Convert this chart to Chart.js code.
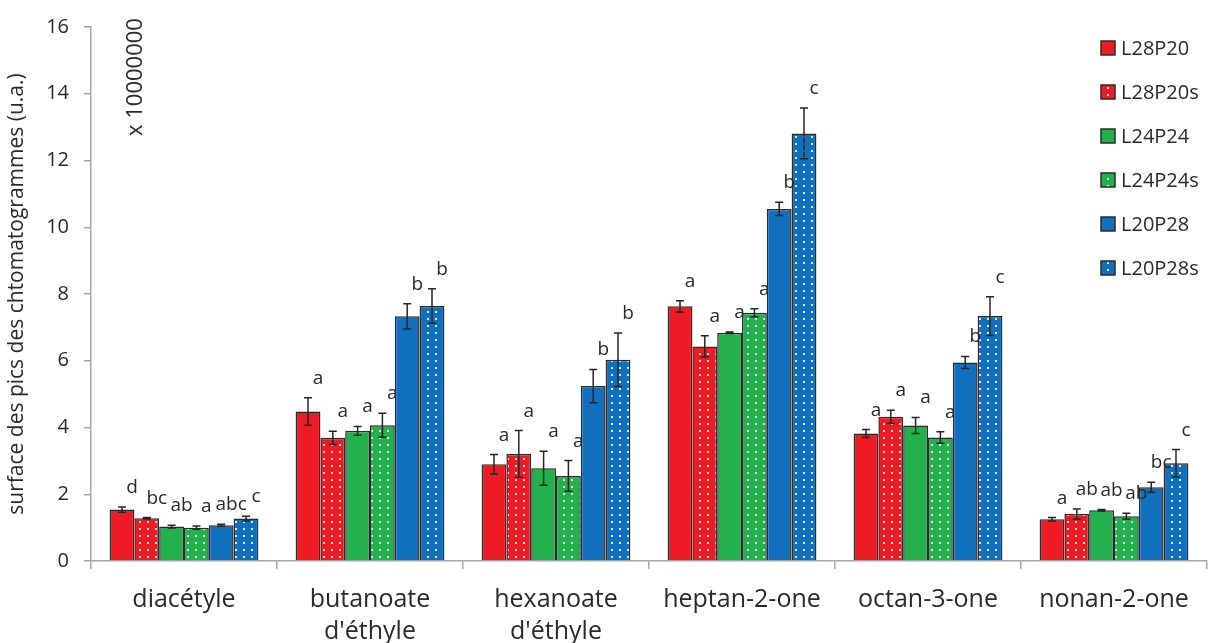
<!DOCTYPE html>
<html>
<head>
<meta charset="utf-8">
<script src="https://cdn.jsdelivr.net/npm/chart.js@4.4.1/dist/chart.umd.min.js"></script>
<style>
  html, body { margin: 0; padding: 0; background: #fff; }
  #wrap { width: 1213px; height: 643px; }
</style>
</head>
<body>
<div id="wrap"><canvas id="chart" width="1213" height="643"></canvas></div>
<script>
const categories = ['diacétyle', ['butanoate', "d'éthyle"], ['hexanoate', "d'éthyle"], 'heptan-2-one', 'octan-3-one', 'nonan-2-one'];
const seriesNames = ['L28P20', 'L28P20s', 'L24P24', 'L24P24s', 'L20P28', 'L20P28s'];

// mean values (x 10000000)
const L28P20  = [1.54, 4.48, 2.90, 7.63, 3.82, 1.25];
const L28P20s = [1.28, 3.69, 3.21, 6.43, 4.32, 1.41];
const L24P24  = [1.03, 3.90, 2.78, 6.84, 4.06, 1.52];
const L24P24s = [1.00, 4.07, 2.55, 7.44, 3.70, 1.34];
const L20P28  = [1.07, 7.33, 5.24, 10.55, 5.95, 2.21];
const L20P28s = [1.27, 7.64, 6.03, 12.81, 7.34, 2.93];

// error bars (+/-)
const errL28P20  = [0.08, 0.41, 0.29, 0.17, 0.12, 0.05];
const errL28P20s = [0.02, 0.20, 0.70, 0.32, 0.20, 0.15];
const errL24P24  = [0.04, 0.13, 0.51, 0.02, 0.24, 0.02];
const errL24P24s = [0.05, 0.36, 0.46, 0.12, 0.17, 0.09];
const errL20P28  = [0.03, 0.38, 0.50, 0.20, 0.18, 0.15];
const errL20P28s = [0.07, 0.52, 0.80, 0.76, 0.58, 0.41];

// significance letters
const letL28P20  = ['d', 'a', 'a', 'a', 'a', 'a'];
const letL28P20s = ['bc', 'a', 'a', 'a', 'a', 'ab'];
const letL24P24  = ['ab', 'a', 'a', 'a', 'a', 'ab'];
const letL24P24s = ['a', 'a', 'a', 'a', 'a', 'ab'];
const letL20P28  = ['abc', 'b', 'b', 'b', 'b', 'bc'];
const letL20P28s = ['c', 'b', 'b', 'c', 'c', 'c'];

const yTicks = [0, 2, 4, 6, 8, 10, 12, 14, 16];

const RED = '#ed1c24';
const GREEN = '#22b14c';
const BLUE = '#1170be';
const FONT = "'Open Sans', 'DejaVu Sans', sans-serif";
const TEXT = '#2a2a2a';
const AXIS = '#a6a6a6';

const canvas = document.getElementById('chart');
const ctx = canvas.getContext('2d');

function dotPattern(color) {
  const c = document.createElement('canvas');
  c.width = 8; c.height = 7;
  const g = c.getContext('2d');
  g.fillStyle = color;
  g.fillRect(0, 0, 8, 7);
  g.fillStyle = 'rgba(255,255,255,0.85)';
  g.fillRect(3, 3, 2, 2);
  return ctx.createPattern(c, 'repeat');
}

const seriesValues = [L28P20, L28P20s, L24P24, L24P24s, L20P28, L20P28s];
const seriesErrors = [errL28P20, errL28P20s, errL24P24, errL24P24s, errL20P28, errL20P28s];
const seriesLetters = [letL28P20, letL28P20s, letL24P24, letL24P24s, letL20P28, letL20P28s];
const seriesFills = [RED, dotPattern(RED), GREEN, dotPattern(GREEN), BLUE, dotPattern(BLUE)];

const datasets = seriesNames.map((name, i) => ({
  label: name,
  data: seriesValues[i],
  errors: seriesErrors[i],
  letters: seriesLetters[i],
  backgroundColor: seriesFills[i],
  borderColor: '#2b2b2b',
  borderWidth: 1.5,
  categoryPercentage: 0.8,
  barPercentage: 1.0
}));

// error bars + letters above them
const errorBarPlugin = {
  id: 'errorBars',
  afterDatasetsDraw(chart) {
    const c = chart.ctx;
    const y = chart.scales.y;
    c.save();
    chart.data.datasets.forEach((ds, i) => {
      const meta = chart.getDatasetMeta(i);
      meta.data.forEach((bar, j) => {
        const v = ds.data[j], e = ds.errors[j];
        const top = y.getPixelForValue(v + e);
        const bot = y.getPixelForValue(v - e);
        c.strokeStyle = '#262626';
        c.lineWidth = 1.5;
        c.beginPath();
        c.moveTo(bar.x, top); c.lineTo(bar.x, bot);
        c.moveTo(bar.x - 4, top); c.lineTo(bar.x + 4, top);
        c.moveTo(bar.x - 4, bot); c.lineTo(bar.x + 4, bot);
        c.stroke();

        c.fillStyle = TEXT;
        c.font = '19px ' + FONT;
        c.textAlign = 'center';
        c.textBaseline = 'alphabetic';
        c.fillText(ds.letters[j], bar.x + 10, top - 14);
      });
    });
    c.restore();
  }
};

// legend drawn inside the plot, top right
const legendPlugin = {
  id: 'customLegend',
  afterDraw(chart) {
    const c = chart.ctx;
    c.save();
    chart.data.datasets.forEach((ds, i) => {
      const cy = 48 + i * 44;
      c.fillStyle = ds.backgroundColor;
      c.fillRect(1101, cy - 7, 14, 14);
      c.strokeStyle = '#2b2b2b';
      c.lineWidth = 1.5;
      c.strokeRect(1101, cy - 7, 14, 14);
      c.fillStyle = TEXT;
      c.font = '20px ' + FONT;
      c.textAlign = 'left';
      c.textBaseline = 'middle';
      c.fillText(ds.label, 1121, cy + 1);
    });
    c.restore();
  }
};

// multiplier note next to the y axis
const notePlugin = {
  id: 'scaleNote',
  afterDraw(chart) {
    const c = chart.ctx;
    c.save();
    c.translate(136, 136);
    c.rotate(-Math.PI / 2);
    c.fillStyle = TEXT;
    c.font = '22px ' + FONT;
    c.textAlign = 'left';
    c.textBaseline = 'middle';
    c.fillText('x 10000000', 0, 0);
    c.restore();
  }
};

new Chart(ctx, {
  type: 'bar',
  data: { labels: categories, datasets: datasets },
  options: {
    responsive: false,
    animation: false,
    devicePixelRatio: 1,
    layout: { padding: { left: 0, top: 26, right: 6, bottom: 0 } },
    plugins: {
      legend: { display: false },
      tooltip: { enabled: false }
    },
    scales: {
      x: {
        grid: { display: true, offset: true, drawOnChartArea: false, drawTicks: true, tickLength: 8, color: AXIS, lineWidth: 1.5 },
        border: { display: true, color: AXIS, width: 1.5 },
        ticks: {
          color: TEXT,
          font: { family: FONT, size: 25, lineHeight: 1.28 },
          padding: 15,
          maxRotation: 0,
          autoSkip: false
        },
        afterFit(scale) { scale.height = 82; }
      },
      y: {
        min: 0,
        max: 16,
        afterBuildTicks(scale) { scale.ticks = yTicks.map(v => ({ value: v })); },
        grid: { display: true, drawOnChartArea: false, drawTicks: true, tickLength: 7, color: AXIS, lineWidth: 1.5 },
        border: { display: true, color: AXIS, width: 1.5 },
        ticks: {
          color: TEXT,
          font: { family: FONT, size: 20 },
          padding: 15
        },
        title: {
          display: true,
          text: 'surface des pics des chtomatogrammes (u.a.)',
          color: TEXT,
          font: { family: FONT, size: 21 },
          padding: { top: 4, bottom: 0 }
        },
        afterFit(scale) { scale.width = 91; }
      }
    }
  },
  plugins: [errorBarPlugin, legendPlugin, notePlugin]
});
</script>
</body>
</html>
